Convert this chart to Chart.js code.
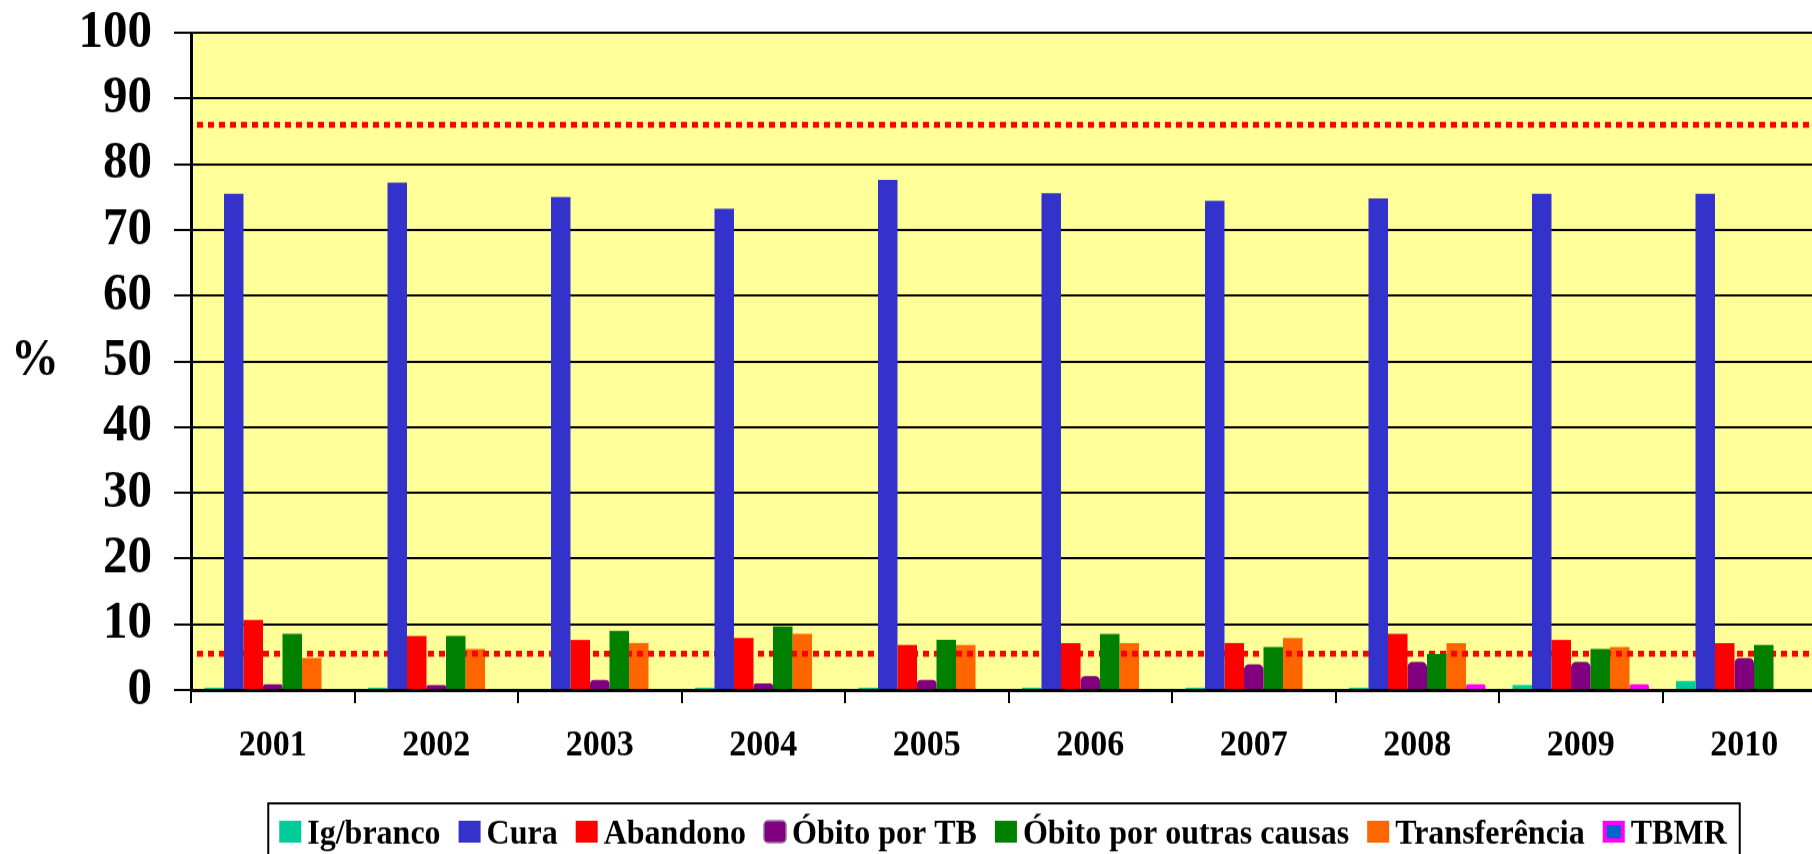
<!DOCTYPE html>
<html>
<head>
<meta charset="utf-8">
<script src="https://cdn.jsdelivr.net/npm/chart.js@4.4.0/dist/chart.umd.min.js"></script>
<style>
  html { overflow: hidden; }
  html, body { margin: 0; padding: 0; background: #fff; }
  body { height: 900px; }
  #wrap { width: 1826px; height: 800px; transform: scaleY(1.09); transform-origin: 0 0; }
</style>
</head>
<body>
<div id="wrap"><canvas id="tbChart" width="1826" height="800"></canvas></div>
<script>
const years = ['2001', '2002', '2003', '2004', '2005', '2006', '2007', '2008', '2009', '2010'];
const igBranco = [0.35, 0.35, 0, 0.35, 0.35, 0.35, 0.35, 0.35, 0.76, 1.37];
const cura = [75.5, 77.2, 75.0, 73.2, 77.6, 75.6, 74.4, 74.8, 75.5, 75.5];
const abandono = [10.65, 8.22, 7.61, 7.91, 6.85, 7.15, 7.15, 8.52, 7.61, 7.15];
const obitoTB = [0.87, 0.76, 1.52, 1.01, 1.52, 2.13, 3.91, 4.26, 4.26, 4.87];
const obitoOutras = [8.52, 8.22, 8.98, 9.64, 7.61, 8.52, 6.54, 5.48, 6.24, 6.85];
const transferencia = [4.87, 6.24, 7.15, 8.52, 6.85, 7.15, 7.91, 7.15, 6.54, 0];
const tbmr = [0, 0, 0, 0, 0, 0, 0, 0.87, 0.87, 0];
const refLines = [86, 5.5];
const yTicks = [0, 10, 20, 30, 40, 50, 60, 70, 80, 90, 100];

const serif = "'Liberation Serif', 'Times New Roman', serif";

const plotBg = {
    id: 'plotBg',
    beforeDraw(chart) {
        const {ctx, chartArea} = chart;
        ctx.save();
        ctx.fillStyle = '#FFFF99';
        ctx.fillRect(chartArea.left, chartArea.top, chartArea.right - chartArea.left, chartArea.bottom - chartArea.top);
        ctx.restore();
    }
};

// dotted target lines, drawn above the orange bars but under the others
const targetLines = {
    id: 'targetLines',
    beforeDatasetDraw(chart, args) {
        if (args.index !== 4) return;
        const {ctx, chartArea, scales} = chart;
        ctx.save();
        ctx.strokeStyle = '#FF0000';
        ctx.lineWidth = 5.5;
        ctx.setLineDash([6, 5]);
        refLines.forEach(v => {
            const py = scales.y.getPixelForValue(v);
            ctx.beginPath();
            ctx.moveTo(chartArea.left + 6, py);
            ctx.lineTo(chartArea.right, py);
            ctx.stroke();
        });
        ctx.restore();
    }
};

// "%" label and the boxed legend under the chart
const extras = {
    id: 'extras',
    afterDraw(chart) {
        const {ctx, scales} = chart;
        ctx.save();
        ctx.fillStyle = '#000';
        ctx.font = 'bold 48px ' + serif;
        ctx.textAlign = 'center';
        ctx.textBaseline = 'middle';
        ctx.fillText('%', 35, scales.y.getPixelForValue(50));

        const boxW = 22, boxH = 20, gap = 6, itemGap = 18, midY = 763;
        ctx.font = 'bold 32px ' + serif;
        ctx.textAlign = 'left';
        ctx.textBaseline = 'alphabetic';
        const items = chart.data.datasets.map(ds => ({
            text: ds.label,
            color: ds.backgroundColor,
            w: ctx.measureText(ds.label).width
        }));
        const total = items.reduce((s, it) => s + boxW + gap + it.w, 0) + itemGap * (items.length - 1);
        let x = 1003 - total / 2;
        const x0 = x;
        items.forEach(it => {
            if (it.text === 'TBMR') {
                ctx.fillStyle = '#0066CC';
                ctx.fillRect(x + 2, midY - boxH / 2 + 2, boxW - 4, boxH - 4);
                ctx.strokeStyle = '#FF00FF';
                ctx.lineWidth = 4;
                ctx.strokeRect(x + 2, midY - boxH / 2 + 2, boxW - 4, boxH - 4);
            } else if (it.text === 'Óbito por TB') {
                ctx.fillStyle = it.color;
                ctx.strokeStyle = '#A070A0';
                ctx.lineWidth = 1.5;
                ctx.beginPath();
                if (ctx.roundRect) ctx.roundRect(x, midY - boxH / 2, boxW, boxH, 4);
                else ctx.rect(x, midY - boxH / 2, boxW, boxH);
                ctx.fill();
                ctx.stroke();
            } else {
                ctx.fillStyle = it.color;
                ctx.fillRect(x, midY - boxH / 2, boxW, boxH);
            }
            ctx.fillStyle = '#000';
            ctx.fillText(it.text, x + boxW + gap, midY + 11);
            x += boxW + gap + it.w + itemGap;
        });
        const x1 = x - itemGap;
        ctx.strokeStyle = '#000';
        ctx.lineWidth = 2;
        ctx.strokeRect(x0 - 11, 737, x1 - x0 + 24, 60);
        ctx.restore();
    }
};

const ctx = document.getElementById('tbChart').getContext('2d');
const chart = new Chart(ctx, {
    type: 'bar',
    data: {
        labels: years,
        datasets: [
            { label: 'Ig/branco', data: igBranco, backgroundColor: '#00CC99' },
            { label: 'Cura', data: cura, backgroundColor: '#3333CC' },
            { label: 'Abandono', data: abandono, backgroundColor: '#FF0000' },
            { label: 'Óbito por TB', data: obitoTB, backgroundColor: '#800080',
              borderRadius: { topLeft: 5, topRight: 5 } },
            { label: 'Óbito por outras causas', data: obitoOutras, backgroundColor: '#008000' },
            { label: 'Transferência', data: transferencia, backgroundColor: '#FF6600' },
            { label: 'TBMR', data: tbmr, backgroundColor: '#FF00FF',
              borderRadius: { topLeft: 5, topRight: 5 } }
        ]
    },
    options: {
        responsive: false,
        maintainAspectRatio: false,
        animation: false,
        layout: { padding: { top: 30, left: 0, right: 0, bottom: 42 } },
        datasets: {
            bar: { categoryPercentage: 0.835, barPercentage: 1, borderWidth: 0 }
        },
        scales: {
            x: {
                offset: true,
                grid: { offset: true, drawOnChartArea: false, drawTicks: true, tickLength: 12, color: '#000', lineWidth: 2 },
                border: { display: true, color: '#000', width: 3 },
                ticks: { color: '#000', font: { family: serif, size: 34, weight: 'bold' }, padding: 19, maxRotation: 0, autoSkip: false },
                afterFit(scale) { scale.height = 125; }
            },
            y: {
                min: 0,
                max: 100,
                afterBuildTicks(scale) { scale.ticks = yTicks.map(v => ({ value: v })); },
                grid: { color: '#000', lineWidth: 2, tickLength: 17, drawTicks: true },
                border: { display: true, color: '#000', width: 3 },
                ticks: { color: '#000', font: { family: serif, size: 49, weight: 'bold' }, padding: 22, autoSkip: false },
                afterFit(scale) {
                    scale.width = 191;
                    scale.paddingTop = 0;
                    scale.paddingBottom = 0;
                }
            }
        },
        plugins: {
            tooltip: { enabled: false },
            legend: { display: false }
        }
    },
    plugins: [plotBg, targetLines, extras]
});
</script>
</body>
</html>
